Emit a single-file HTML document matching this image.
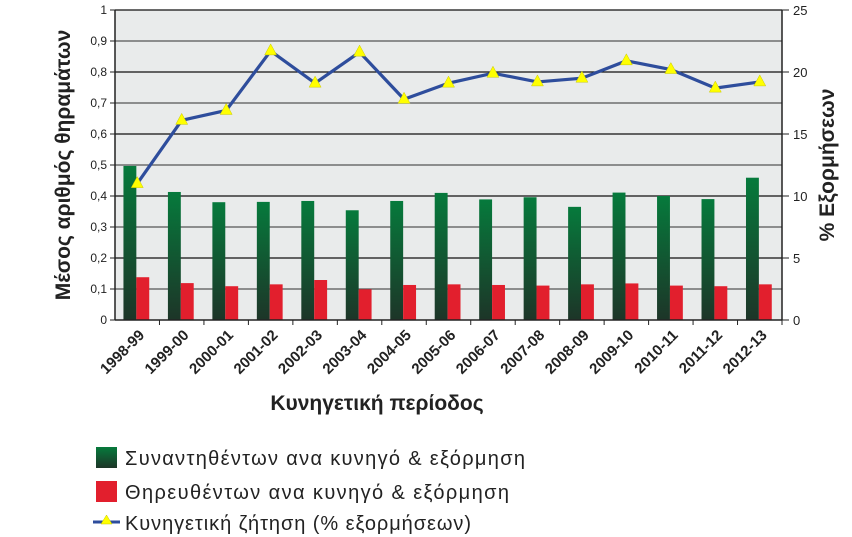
<!DOCTYPE html>
<html><head><meta charset="utf-8"><style>
html,body{margin:0;padding:0;background:#fff;}
svg{display:block;font-family:"Liberation Sans",sans-serif;}
</style></head><body>
<svg id="chart" width="852" height="537" viewBox="0 0 852 537" xmlns="http://www.w3.org/2000/svg">
<defs>
<linearGradient id="gg" x1="0" y1="0" x2="0" y2="1"><stop offset="0" stop-color="#067a3c"/><stop offset="1" stop-color="#1d3528"/></linearGradient>
</defs>
<rect x="115" y="10" width="667" height="310" fill="#e9ebeb"/>
<g id="grid"></g><g id="bars"></g><g id="line"></g><g id="axes"></g>
<text x="377" y="410" text-anchor="middle" font-size="21" font-weight="bold" fill="#222">Κυνηγετική περίοδος</text>
<text transform="translate(70,165) rotate(-90)" text-anchor="middle" font-size="21" font-weight="bold" fill="#222">Μέσος αριθμός θηραμάτων</text>
<text transform="translate(834,165) rotate(-90)" text-anchor="middle" font-size="21" font-weight="bold" fill="#222">% Εξορμήσεων</text>
<g>
<rect x="96" y="447" width="21" height="21" fill="url(#gg)"/>
<text x="125" y="465" font-size="20" fill="#222" textLength="400">Συναντηθέντων ανα κυνηγό &amp; εξόρμηση</text>
<rect x="96" y="481" width="21" height="21" fill="#e21f2d"/>
<text x="125" y="499" font-size="20" fill="#222" textLength="384">Θηρευθέντων ανα κυνηγό &amp; εξόρμηση</text>
<line x1="93" y1="522" x2="120" y2="522" stroke="#2e4d9c" stroke-width="3"/>
<polygon points="106.5,515 101,524 112,524" fill="#ffff00" stroke="#c8c800" stroke-width="0.5"/>
<text x="125" y="530" font-size="20" fill="#222" textLength="346">Κυνηγετική ζήτηση (% εξορμήσεων)</text>
</g>
</svg>
<script>
const categories=["1998-99","1999-00","2000-01","2001-02","2002-03","2003-04","2004-05","2005-06","2006-07","2007-08","2008-09","2009-10","2010-11","2011-12","2012-13"];
const encountered=[0.497,0.413,0.380,0.381,0.384,0.354,0.384,0.410,0.389,0.396,0.365,0.411,0.400,0.390,0.459];
const harvested=[0.138,0.119,0.109,0.115,0.129,0.099,0.113,0.115,0.113,0.111,0.115,0.118,0.111,0.109,0.115];
const demand=[11.0,16.1,16.9,21.7,19.1,21.6,17.8,19.1,19.9,19.2,19.5,20.9,20.2,18.7,19.2];
const leftTicks=["0","0,1","0,2","0,3","0,4","0,5","0,6","0,7","0,8","0,9","1"];
const rightTicks=["0","5","10","15","20","25"];
const NS="http://www.w3.org/2000/svg";
const X0=115,X1=782,Y0=320,Y1=10;
const bw=(X1-X0)/categories.length;
const y=v=>Y0-(v/1)*(Y0-Y1);
const y2=v=>Y0-(v/25)*(Y0-Y1);
const xc=i=>X0+bw*(i+0.5);
function mk(t,a,p){const e=document.createElementNS(NS,t);for(const k in a)e.setAttribute(k,a[k]);p.appendChild(e);return e;}
const grid=document.getElementById('grid'),bars=document.getElementById('bars'),line=document.getElementById('line'),axes=document.getElementById('axes');
leftTicks.forEach((t,i)=>{const v=i/10;const yy=y(v);
 if(i>0){const g=mk('line',{x1:X0,x2:X1,y1:yy,y2:yy,stroke:(i%2?'#555':'#111'),'stroke-width':1.2},grid);
 
 }
 const tk=mk('line',{x1:X0-5,x2:X0,y1:yy,y2:yy,stroke:'#222'},axes);
 
 
 const tx=mk('text',{x:X0-8,y:yy+4,'text-anchor':'end','font-size':12,fill:'#222'},axes);tx.textContent=t;
 
 });
rightTicks.forEach((t,i)=>{const yy=y2(i*5);
 const tk=mk('line',{x1:X1,x2:X1+7,y1:yy,y2:yy,stroke:'#222'},axes);
 
 
 const tx=mk('text',{x:X1+11,y:yy+5,'font-size':13,fill:'#222'},axes);tx.textContent=t;
 
 });
let al=mk('line',{x1:X0,x2:X0,y1:Y1,y2:Y0,stroke:'#222','stroke-width':1.5},axes);


al=mk('line',{x1:X1,x2:X1,y1:Y1,y2:Y0,stroke:'#222','stroke-width':1.5},axes);


al=mk('line',{x1:X0,x2:X1,y1:Y0,y2:Y0,stroke:'#222','stroke-width':1.5},axes);


categories.forEach((c,i)=>{
 const tk=mk('line',{x1:X0+bw*(i+1),x2:X0+bw*(i+1),y1:Y0,y2:Y0+5,stroke:'#222'},axes);
 
 
 const cx=xc(i);
 const g=mk('rect',{x:cx-bw*0.31,y:y(encountered[i]),width:bw*0.29,height:Y0-y(encountered[i]),fill:'url(#gg)'},bars);
 
 
 const r=mk('rect',{x:cx-bw*0.02,y:y(harvested[i]),width:bw*0.29,height:Y0-y(harvested[i]),fill:'#e21f2d'},bars);
 
 
 const tx=mk('text',{x:0,y:0,'text-anchor':'end','font-size':15,'font-weight':'bold',fill:'#222',transform:`translate(${cx+8},${Y0+16}) rotate(-45)`},axes);
 tx.textContent=c;
 
 
});
const pl=mk('polyline',{points:demand.map((v,i)=>xc(i)+','+y2(v)).join(' '),fill:'none',stroke:'#2e4d9c','stroke-width':3.2,'stroke-linejoin':'miter'},line);


demand.forEach((v,i)=>{const cx=xc(i),cy=y2(v);
 const m=mk('polygon',{points:`${cx},${cy-7} ${cx-6},${cy+4} ${cx+6},${cy+4}`,fill:'#ffff00',stroke:'#c8c800','stroke-width':0.5},line);
 
 });
</script>
</body></html>
